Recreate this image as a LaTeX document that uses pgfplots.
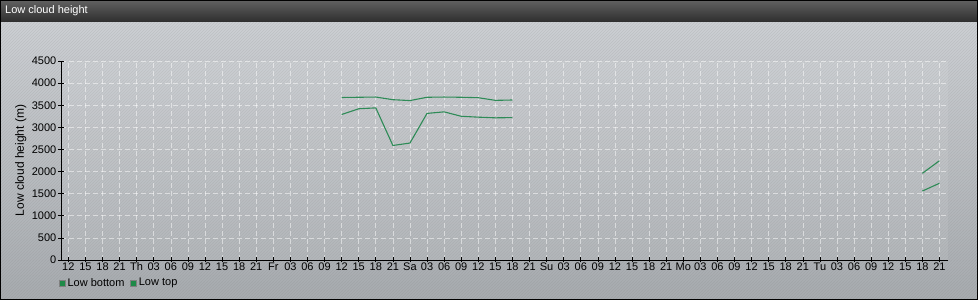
\documentclass[border=0pt]{standalone}
\usepackage{fontspec}
\setmainfont{Liberation Sans}
\usepackage{pgfplots}
\pgfplotsset{compat=1.18}
\usetikzlibrary{patterns}
\definecolor{linegreen}{HTML}{2E8B57}
\definecolor{leggreen}{HTML}{1E8A48}
\definecolor{bgtop}{HTML}{CDD0D4}
\definecolor{bgbot}{HTML}{A7ABAF}
\begin{document}
\begin{tikzpicture}[x=1pt,y=1pt]
\useasboundingbox (0,0) rectangle (978,300);
% body
\shade[top color=bgtop, bottom color=bgbot] (0,0) rectangle (978,278);
\fill[pattern=north east lines, pattern color=gray, opacity=0.18] (0,0) rectangle (978,278);
% title bar
\shade[top color=black!62, bottom color=black!82] (0,278) rectangle (978,300);
\node[anchor=west, text=white, font=\fontsize{11}{13}\selectfont, inner sep=0pt] at (5,289) {Low cloud height};
\draw[black, line width=1.2pt] (0.6,0.6) rectangle (977.4,299.4);
\begin{axis}[
  at={(61pt,40pt)}, anchor=south west,
  scale only axis, width=887pt, height=199pt,
  xmin=-0.43, xmax=51.5, ymin=0, ymax=4500,
  axis x line*=bottom, axis y line*=left,
  axis line style={black, line width=0.8pt, -},
  axis background/.style={fill=white, fill opacity=0.08},
  xtick={0,...,51},
  xticklabels={12,15,18,21,Th,03,06,09,12,15,18,21,Fr,03,06,09,12,15,18,21,Sa,03,06,09,12,15,18,21,Su,03,06,09,12,15,18,21,Mo,03,06,09,12,15,18,21,Tu,03,06,09,12,15,18,21},
  ytick={0,500,...,4500},
  tick align=center, major tick length=5pt,
  tick style={black, line width=0.6pt},
  grid=major,
  major grid style={white, opacity=0.5, dash pattern=on 5pt off 3pt, line width=0.6pt},
  tick label style={font=\fontsize{11}{12}\selectfont, text=black},
  xticklabel style={inner sep=1pt, yshift=1pt},
  yticklabel style={inner sep=2pt},
  /pgf/number format/assume math mode=true,
  /pgf/number format/1000 sep={},
  ylabel={\fontsize{12}{13}\selectfont Low cloud height (m)},
  ylabel style={at={(axis description cs:0,0.5)}, xshift=-29pt},
  ylabel near ticks,
  unbounded coords=jump,
  legend style={at={(0,0)}, anchor=north west, xshift=-2pt, yshift=-16pt, draw=none, fill=none,
    font=\fontsize{11}{12}\selectfont, legend columns=-1, inner sep=0pt,
    /tikz/every even column/.append style={column sep=4pt}},
  legend cell align=left,
  legend image code/.code={\fill[leggreen, draw=gray, line width=0.4pt] (0pt,-3pt) rectangle (6pt,3pt);},
  clip=false,
]
\addplot[linegreen, line width=1.1pt] coordinates {
(16,3290) (17,3420) (18,3440) (19,2590) (20,2645) (21,3315) (22,3350) (23,3250) (24,3230) (25,3215) (26,3220)
(27,nan)
(50,1560) (51,1735)
};
\addlegendentry{Low bottom}
\addplot[linegreen, line width=1.1pt] coordinates {
(16,3675) (17,3680) (18,3685) (19,3625) (20,3605) (21,3680) (22,3685) (23,3680) (24,3670) (25,3610) (26,3618)
(27,nan)
(50,1960) (51,2245)
};
\addlegendentry{Low top}
\end{axis}
\end{tikzpicture}
\end{document}
